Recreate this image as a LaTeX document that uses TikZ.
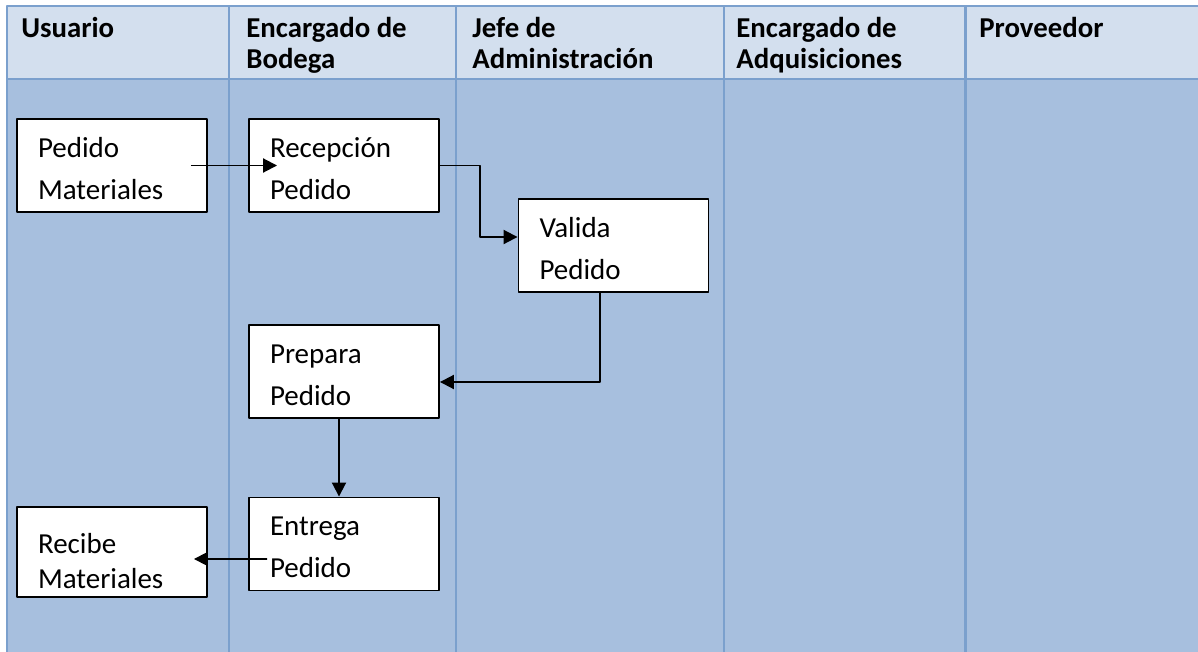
\documentclass[tikz,border=0pt]{standalone}
\usepackage{fontspec}
\setmainfont{Carlito}
\usetikzlibrary{positioning,arrows.meta}
\definecolor{cabecera}{HTML}{D3DFEE}
\definecolor{carril}{HTML}{A7BFDE}
\definecolor{borde}{HTML}{7BA0CD}
\begin{document}
\begin{tikzpicture}[x=0.02cm, y=-0.02cm, line join=round, >={Triangle[length=0.28cm,width=0.28cm]},
	paso/.style={draw, fill=white, line width=1.1pt, minimum width=3.8cm, minimum height=1.86cm, text width=2.96cm, inner xsep=0.42cm, align=left, font=\fontsize{16.5}{23.9}\selectfont, execute at begin node={\rule{0pt}{0.52cm}}},
	flecha/.style={->, line width=1.1pt},
	titulo/.style={anchor=north west, align=left, inner sep=0pt, font=\fontsize{16.4}{17.6}\selectfont\bfseries}]
	\useasboundingbox (0,0) rectangle (1198,652);
	% Carriles
	\fill[cabecera] (7,6) rectangle (1198,79);
	\fill[carril] (7,79) rectangle (1198,652);
	\draw[borde, line width=1.7pt] (1198,6) -- (7,6) -- (7,652);
	\draw[borde, line width=1.7pt] (7,79) -- (1198,79);
	\foreach \x in {229,456,724,965}
		\draw[borde, line width=1.7pt] (\x,6) -- (\x,652);
	% Titulos
	\node[titulo] (usu) at (21,17) {Usuario};
	\node[titulo] (bod) at (246,17) {Encargado de\\Bodega};
	\node[titulo] (adm) at (472,17) {Jefe de\\Administración};
	\node[titulo] (adq) at (736,17) {Encargado de\\Adquisiciones};
	\node[titulo] (prov) at (979,17) {Proveedor};
	% Pasos
	\node[paso] (pm) at (112,165.5) {Pedido\\Materiales};
	\node[paso] (rp) at (344,165.5) {Recepción\\Pedido};
	\node[paso] (vp) at (613.5,245.5) {Valida\\Pedido};
	\node[paso] (pp) at (344,371.5) {Prepara\\Pedido};
	\node[paso] (ep) at (344,544) {Entrega\\Pedido};
	\node[paso, minimum height=1.8cm, font=\fontsize{16.5}{19.9}\selectfont, execute at begin node={\rule{0pt}{0.76cm}}] (rm) at (112,552) {Recibe\\Materiales};
	% Flechas
	\draw[flecha] ([xshift=-0.34cm]pm.east) -- ([xshift=0.58cm]rp.west);
	\draw[flecha] (rp.east) -- ++(0.8cm,0) |- ([yshift=0.17cm]vp.west);
	\draw[flecha] ([xshift=-0.27cm]vp.south) |- ([yshift=-0.21cm]pp.east);
	\draw[flecha] ([xshift=-0.1cm]pp.south) -- ([xshift=-0.1cm]ep.north);
	\draw[flecha] ([xshift=0.38cm,yshift=-0.3cm]ep.west) -- ([xshift=-0.28cm,yshift=-0.14cm]rm.east);
\end{tikzpicture}
\end{document}
